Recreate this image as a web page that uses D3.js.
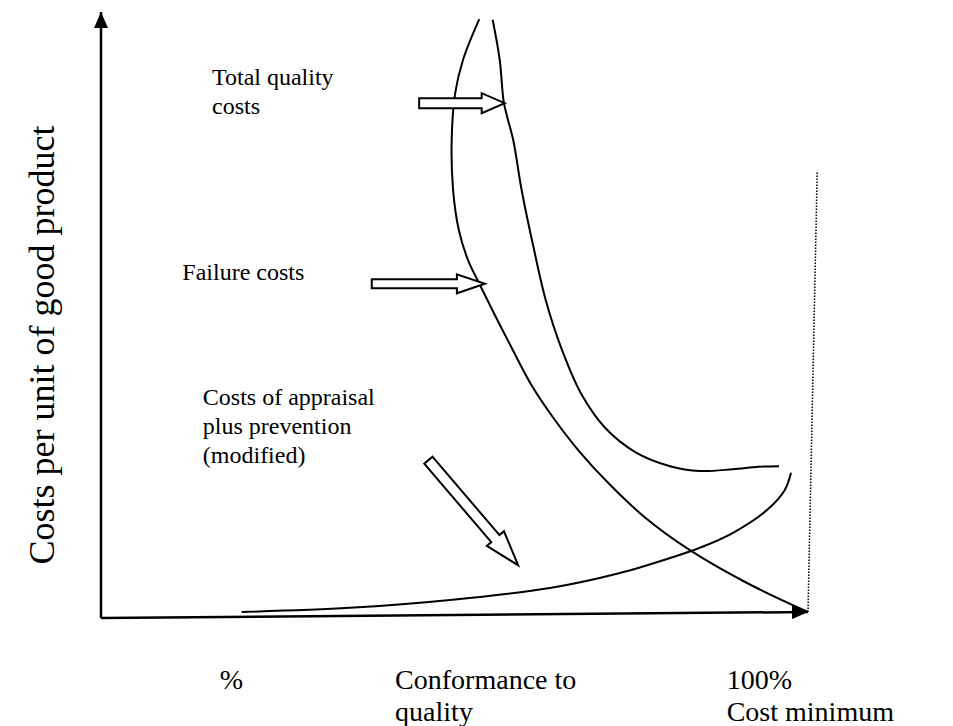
<!DOCTYPE html>
<html>
<head>
<meta charset="utf-8">
<script src="https://cdn.jsdelivr.net/npm/d3@7"></script>
<style>
  body { margin: 0; background: #fff; }
  svg { display: block; }
  text { font-family: "Liberation Serif", "Times New Roman", serif; fill: #000; }
</style>
</head>
<body>
<div id="chart"></div>
<script>
const W = 953, H = 726;

// curves: q = conformance to quality (%), c = cost per unit (relative)
var failure = [
  [53.5, 98.8], [51.2, 92.0], [50.1, 86.5], [49.6, 78.7], [49.8, 70.3],
  [50.6, 63.7], [51.9, 58.7], [53.6, 54.5], [55.7, 49.5], [58.1, 44.0],
  [60.9, 37.8], [64.2, 32.0], [67.7, 26.7], [72.0, 21.2], [76.9, 15.8],
  [83.3, 10.3], [91.1, 5.0], [100, 0]
];
var total = [
  [55.4, 98.7], [56.4, 92.0], [57.0, 84.8], [58.3, 78.7], [59.5, 70.3],
  [61.1, 61.2], [62.9, 52.0], [65.2, 43.7], [68.0, 36.2], [71.3, 30.7],
  [75.5, 26.7], [80.5, 24.3], [84.7, 23.5], [89.4, 23.8], [93.0, 24.2],
  [95.9, 24.3]
];
var appraisal = [
  [19.9, 0], [35.2, 0.7], [49.4, 2.0], [63.5, 4.0], [73.4, 6.5],
  [80.5, 9.0], [84.7, 10.7], [89.4, 13.2], [94.2, 17.0], [96.7, 20.3],
  [97.6, 23.2]
];
var costMinimum = [[100, 0], [101.3, 73.3]];

// block arrows: tail, tip (data units)
var arrows = [
  { from: [45.0, 84.8], to: [57.1, 84.8], shaft: 5, head: 23, wing: 10 },
  { from: [38.3, 54.7], to: [54.3, 54.7], shaft: 4.5, head: 28, wing: 9.5 },
  { from: [46.3, 25.3], to: [59.0, 7.8], shaft: 5.4, head: 35, wing: 11.3 }
];

// labels
var notes = [
  { lines: ["Total quality", "costs"], at: [15.7, 87.8] },
  { lines: ["Failure costs"], at: [11.5, 55.3] },
  { lines: ["Costs of appraisal", "plus prevention", "(modified)"], at: [14.4, 34.5] }
];
var bottomLabels = [
  { lines: ["%"], q: 16.8 },
  { lines: ["Conformance to", "quality"], q: 41.6 },
  { lines: ["100%", "Cost minimum"], q: 88.5 }
];
var yTitle = "Costs per unit of good product";

var x = d3.scaleLinear().domain([0, 100]).range([101, 808]);
var y = d3.scaleLinear().domain([0, 100]).range([612, 12]);

var svg = d3.select("#chart").append("svg")
    .attr("width", W)
    .attr("height", H);

svg.append("defs").append("marker")
    .attr("id", "head")
    .attr("viewBox", "0 0 16 14")
    .attr("refX", 16).attr("refY", 7)
    .attr("markerWidth", 16).attr("markerHeight", 14)
    .attr("markerUnits", "userSpaceOnUse")
    .attr("orient", "auto")
  .append("path")
    .attr("d", "M0,0L16,7L0,14Z")
    .attr("fill", "#000");

var line = d3.line()
    .x(function(d) { return x(d[0]); })
    .y(function(d) { return y(d[1]); })
    .curve(d3.curveCatmullRom.alpha(0.5));

// axes
svg.append("line")
    .attr("x1", x(0)).attr("y1", y(-1))
    .attr("x2", x(0)).attr("y2", y(100))
    .attr("stroke", "#000").attr("stroke-width", 2.5)
    .attr("marker-end", "url(#head)");

svg.append("line")
    .attr("x1", x(0)).attr("y1", y(-1))
    .attr("x2", x(100)).attr("y2", y(0))
    .attr("stroke", "#000").attr("stroke-width", 2.5)
    .attr("marker-end", "url(#head)");

svg.append("path")
    .attr("d", d3.line().x(function(d) { return x(d[0]); }).y(function(d) { return y(d[1]); })(costMinimum))
    .attr("fill", "none")
    .attr("stroke", "#000")
    .attr("stroke-width", 1.5)
    .attr("stroke-dasharray", "1.5,1.5");

svg.selectAll(".curve")
    .data([failure, total, appraisal])
  .enter().append("path")
    .attr("class", "curve")
    .attr("d", line)
    .attr("fill", "none")
    .attr("stroke", "#000")
    .attr("stroke-width", 2);

// hollow block arrows
function arrowPath(a) {
  var x0 = x(a.from[0]), y0 = y(a.from[1]), x1 = x(a.to[0]), y1 = y(a.to[1]);
  var len = Math.hypot(x1 - x0, y1 - y0);
  var ux = (x1 - x0) / len, uy = (y1 - y0) / len, nx = -uy, ny = ux;
  var bx = x1 - ux * a.head, by = y1 - uy * a.head;
  var p = [
    [x0 + nx * a.shaft, y0 + ny * a.shaft],
    [bx + nx * a.shaft, by + ny * a.shaft],
    [bx + nx * a.wing, by + ny * a.wing],
    [x1, y1],
    [bx - nx * a.wing, by - ny * a.wing],
    [bx - nx * a.shaft, by - ny * a.shaft],
    [x0 - nx * a.shaft, y0 - ny * a.shaft]
  ];
  return "M" + p.join("L") + "Z";
}

svg.selectAll(".arrow")
    .data(arrows)
  .enter().append("path")
    .attr("class", "arrow")
    .attr("d", arrowPath)
    .attr("fill", "#fff")
    .attr("stroke", "#000")
    .attr("stroke-width", 2)
    .attr("stroke-linejoin", "miter");

// annotations
svg.selectAll(".note")
    .data(notes)
  .enter().append("text")
    .attr("class", "note")
    .attr("x", function(d) { return x(d.at[0]); })
    .attr("y", function(d) { return y(d.at[1]); })
    .style("font-size", "24px")
    .each(function(d) {
      d3.select(this).selectAll("tspan")
        .data(d.lines)
        .enter().append("tspan")
          .attr("x", x(d.at[0]))
          .attr("dy", function(t, i) { return i ? 29 : 0; })
          .text(function(t) { return t; });
    });

svg.selectAll(".blabel")
    .data(bottomLabels)
  .enter().append("text")
    .attr("class", "blabel")
    .attr("x", function(d) { return x(d.q); })
    .attr("y", 689)
    .style("font-size", "28px")
    .each(function(d) {
      d3.select(this).selectAll("tspan")
        .data(d.lines)
        .enter().append("tspan")
          .attr("x", x(d.q))
          .attr("dy", function(t, i) { return i ? 32 : 0; })
          .text(function(t) { return t; });
    });

svg.append("text")
    .attr("transform", "translate(54," + y(44.5) + ") rotate(-90)")
    .attr("text-anchor", "middle")
    .style("font-size", "36px")
    .text(yTitle);
</script>
</body>
</html>
